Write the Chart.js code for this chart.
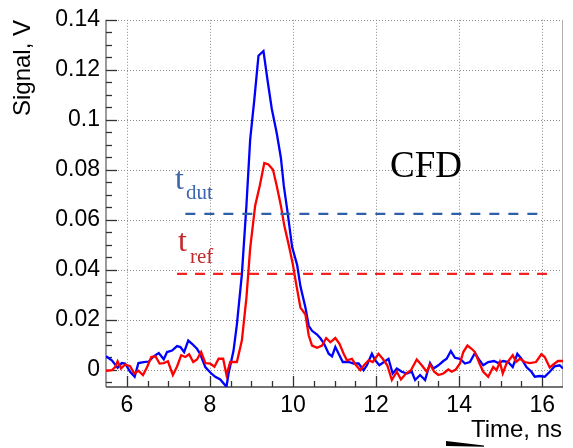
<!DOCTYPE html>
<html><head><meta charset="utf-8">
<script src="https://cdn.jsdelivr.net/npm/chart.js@4.4.0/dist/chart.umd.min.js"></script>
<style>html,body{margin:0;padding:0;background:#fff;}#wrap{width:573px;height:448px;position:relative;}</style>
</head><body><div id="wrap"><canvas id="c" width="573" height="448"></canvas></div>
<script>
// DUT (blue) waveform
const timeDut = [
5.5,5.64,5.78,5.88,5.96,6.08,6.19,6.28,6.41,6.53,
6.65,6.77,6.89,6.97,7.09,7.21,7.29,7.38,7.48,7.57,
7.69,7.77,7.89,8.01,8.13,8.25,8.40,8.45,8.57,8.65,
8.77,8.88,8.97,9.07,9.17,9.29,9.39,9.49,9.61,9.71,
9.78,9.87,9.98,10.10,10.18,10.30,10.38,10.46,10.58,10.66,
10.75,10.86,10.94,11.02,11.10,11.20,11.34,11.46,11.58,11.70,
11.78,11.90,11.98,12.08,12.19,12.30,12.40,12.50,12.62,12.74,
12.86,12.94,13.06,13.18,13.30,13.38,13.50,13.62,13.70,13.80,
13.90,14.02,14.14,14.26,14.38,14.49,14.58,14.70,14.84,14.94,
15.06,15.18,15.29,15.40,15.50,15.62,15.74,15.82,15.94,16.06,
16.18,16.30,16.42,16.5];
const signalDut = [
0.0053,0.0037,0.0007,0.0026,0.0024,-0.0009,-0.0029,0.0026,0.0030,0.0032,
0.0053,0.0066,0.0041,0.0070,0.0076,0.0094,0.0090,0.0070,0.0116,0.0103,
0.0083,0.0061,0.0010,-0.0012,-0.0029,-0.0040,-0.0069,-0.0016,0.0076,0.018,
0.038,0.0656,0.092,0.108,0.1256,0.1275,0.1156,0.1044,0.0946,0.0847,
0.0735,0.063,0.049,0.0419,0.0333,0.0248,0.0175,0.0155,0.014,0.0125,
0.0103,0.0063,0.0053,0.0090,0.0063,0.0030,0.0030,0.0024,0.0024,-0.0003,
0.0017,0.0063,0.0037,0.0017,0.0030,0.0043,-0.0016,0.0004,-0.0009,-0.0016,
-0.0009,-0.0042,-0.0022,-0.0042,0.0026,0.0004,0.0017,0.0034,0.0043,0.0074,
0.0047,0.0043,0.0024,0.0030,0.0066,0.0037,0.0017,0.0030,0.0034,0.0026,
0.0034,0.0030,0.0010,0.0063,0.0043,0.0010,-0.0009,-0.0029,-0.0026,-0.0029,
-0.0009,0.0013,0.0017,0.0004];
// REF (red) waveform
const timeRef = [
5.5,5.64,5.72,5.78,5.86,5.96,6.08,6.18,6.28,6.39,
6.49,6.59,6.69,6.79,6.89,6.99,7.11,7.21,7.31,7.41,
7.50,7.60,7.69,7.79,7.89,8.01,8.11,8.21,8.32,8.40,
8.49,8.65,8.77,8.88,8.97,9.09,9.20,9.31,9.41,9.52,
9.61,9.71,9.79,9.90,10.00,10.08,10.18,10.30,10.38,10.46,
10.58,10.70,10.80,10.90,11.02,11.12,11.22,11.30,11.42,11.52,
11.62,11.71,11.82,11.92,12.06,12.16,12.27,12.38,12.50,12.60,
12.72,12.84,12.98,13.10,13.22,13.30,13.40,13.50,13.62,13.74,
13.82,13.92,14.02,14.10,14.20,14.30,14.38,14.49,14.58,14.70,
14.82,14.90,14.98,15.05,15.14,15.29,15.37,15.46,15.58,15.70,
15.85,15.98,16.06,16.18,16.30,16.38,16.5];
const signalRef = [
-0.0005,-0.0003,0.0010,0.0033,0.0004,0.0020,0.0013,-0.0016,-0.0005,-0.0022,
0.0010,0.0050,0.0053,0.0024,0.0026,0.0033,-0.0022,0.0012,0.0057,0.0050,
0.0061,0.0030,0.0040,0.0070,0.0026,0.0024,0.0011,0.0043,0.0043,-0.0022,
0.0030,0.0030,0.0116,0.0287,0.0485,0.0656,0.0735,0.0827,0.0821,0.0800,
0.0735,0.0656,0.0577,0.0498,0.0419,0.0340,0.0248,0.0220,0.0136,0.0096,
0.0087,0.0096,0.0126,0.0109,0.0126,0.0103,0.0063,0.0037,0.0043,0.0017,
-0.0003,0.0017,0.0037,0.0030,0.0063,0.0043,0.0017,-0.0042,-0.0009,-0.0040,
-0.0016,-0.0003,0.0040,0.0017,-0.0009,0.0020,-0.0009,-0.0022,-0.0016,0.0000,
-0.0009,0.0000,0.0024,0.0070,0.0096,0.0083,0.0070,0.0024,-0.0009,-0.0029,
0.0010,-0.0003,0.0030,-0.0016,0.0024,0.0057,0.0030,0.0043,0.0030,0.0026,
0.0030,0.0061,0.0050,0.0008,0.0024,0.0034,0.0034];
// CFD threshold levels and their time spans
const cfdDutLevel = 0.0623, cfdDutSpan = [7.41, 15.94];
const cfdRefLevel = 0.0383, cfdRefSpan = [7.21, 16.23];
// axis ticks
const xTicks = [6, 8, 10, 12, 14, 16];
const yTicks = [0, 0.02, 0.04, 0.06, 0.08, 0.1, 0.12, 0.14];
const yTickLabels = ['0','0.02','0.04','0.06','0.08','0.1','0.12','0.14'];
const xRange = [5.5, 16.5], yRange = [-0.007, 0.14];

const pts = (t, v) => t.map((ti, i) => ({x: ti, y: v[i]}));

const rootStyle = {
  id: 'rootStyle',
  beforeDatasetsDraw(chart) {
    const {ctx, chartArea: a, scales: {x, y}} = chart;
    ctx.save();
    const L = (x1, y1, x2, y2) => { ctx.beginPath(); ctx.moveTo(x1, y1); ctx.lineTo(x2, y2); ctx.stroke(); };
    // dotted grid
    ctx.strokeStyle = '#8a8a8a'; ctx.lineWidth = 1; ctx.setLineDash([1, 2]);
    xTicks.forEach(v => { const p = Math.round(x.getPixelForValue(v)) + 0.5; L(p, a.top, p, a.bottom); });
    yTicks.forEach(v => { const p = Math.round(y.getPixelForValue(v)) + 0.5; L(a.left, p, a.right, p); });
    ctx.setLineDash([]);
    // right frame edge
    ctx.strokeStyle = '#b0b0b0'; L(a.right - 0.5, a.top, a.right - 0.5, a.bottom);
    // axis lines
    ctx.strokeStyle = '#7a7a7a'; ctx.lineWidth = 1.5;
    L(a.left, a.top, a.left, a.bottom);
    ctx.strokeStyle = '#444'; L(a.left, a.bottom, a.right, a.bottom);
    // ticks (inside)
    ctx.strokeStyle = '#333'; ctx.lineWidth = 1.3;
    for (let k = 0; k <= 22; k++) {
      const v = xRange[0] + k * 0.5;
      const major = xTicks.includes(v);
      const p = Math.round(x.getPixelForValue(v)) + 0.5;
      if (p <= a.left + 1 || p >= a.right - 1) continue;
      L(p, a.bottom, p, a.bottom - (major ? 11 : 6));
    }
    for (let k = -1; k <= 28; k++) {
      const v = Math.round(k * 5) / 1000;
      const major = k % 4 === 0;
      const p = Math.round(y.getPixelForValue(v)) + 0.5;
      L(a.left, p, a.left + (major ? 11 : 6), p);
    }
    ctx.restore();
  },
  afterDatasetsDraw(chart) {
    const {ctx} = chart;
    ctx.save();
    ctx.textAlign = 'left'; ctx.textBaseline = 'alphabetic';
    ctx.fillStyle = '#000';
    ctx.font = '37px "Liberation Serif"';
    ctx.fillText('CFD', 390, 177);
    ctx.fillStyle = '#3c68ab';
    ctx.font = '32px "Liberation Serif"';
    ctx.fillText('t', 175, 189);
    ctx.font = '21px "Liberation Serif"';
    ctx.fillText('dut', 186, 199);
    ctx.fillStyle = '#c4292b';
    ctx.font = '32px "Liberation Serif"';
    ctx.fillText('t', 178, 251);
    ctx.font = '21px "Liberation Serif"';
    ctx.fillText('ref', 190, 263);
    // axis titles
    ctx.fillStyle = '#000';
    ctx.font = '24px "Liberation Sans"';
    ctx.textAlign = 'right';
    ctx.fillText('Time, ns', 562, 437);
    ctx.translate(30, 20); ctx.rotate(-Math.PI / 2);
    ctx.fillText('Signal, V', 0, 0);
    ctx.restore();
    // small black wedge at bottom
    ctx.save();
    ctx.fillStyle = '#000';
    ctx.beginPath();
    ctx.moveTo(446, 441); ctx.lineTo(484, 445.5); ctx.lineTo(484, 446.8); ctx.lineTo(446, 446);
    ctx.closePath(); ctx.fill();
    ctx.restore();
  }
};

new Chart(document.getElementById('c'), {
  type: 'line',
  data: {
    datasets: [
      { label: 'dut level', data: [{x: cfdDutSpan[0], y: cfdDutLevel}, {x: cfdDutSpan[1], y: cfdDutLevel}],
        borderColor: '#2f5fa8', borderWidth: 2.2, borderDash: [10, 9], pointRadius: 0 },
      { label: 'ref level', data: [{x: cfdRefSpan[0], y: cfdRefLevel}, {x: cfdRefSpan[1], y: cfdRefLevel}],
        borderColor: '#f52222', borderWidth: 2.2, borderDash: [10, 8], pointRadius: 0 },
      { label: 'ref', data: pts(timeRef, signalRef), borderColor: '#ff0000', borderWidth: 2.3, pointRadius: 0, tension: 0 },
      { label: 'dut', data: pts(timeDut, signalDut), borderColor: '#0000ff', borderWidth: 2.3, pointRadius: 0, tension: 0 }
    ]
  },
  options: {
    responsive: false, animation: false, devicePixelRatio: 1,
    layout: { padding: { top: 15, right: 10, left: 0, bottom: 0 } },
    plugins: { legend: { display: false }, tooltip: { enabled: false } },
    scales: {
      x: {
        type: 'linear', min: xRange[0], max: xRange[1],
        afterBuildTicks: s => { s.ticks = xTicks.map(v => ({value: v})); },
        afterFit: s => { s.height = 61; },
        grid: { display: false, drawTicks: false }, border: { display: false },
        ticks: { color: '#000', font: { family: 'Liberation Sans', size: 23 }, padding: 5, maxRotation: 0, autoSkip: false,
                 callback: v => String(v) }
      },
      y: {
        type: 'linear', min: yRange[0], max: yRange[1],
        afterBuildTicks: s => { s.ticks = yTicks.map(v => ({value: v})); },
        afterFit: s => { s.width = 106; },
        grid: { display: false, drawTicks: false }, border: { display: false },
        ticks: { color: '#000', font: { family: 'Liberation Sans', size: 23 }, padding: 6, autoSkip: false,
                 callback: (v, i) => yTickLabels[i] }
      }
    }
  },
  plugins: [rootStyle]
});
</script></body></html>
